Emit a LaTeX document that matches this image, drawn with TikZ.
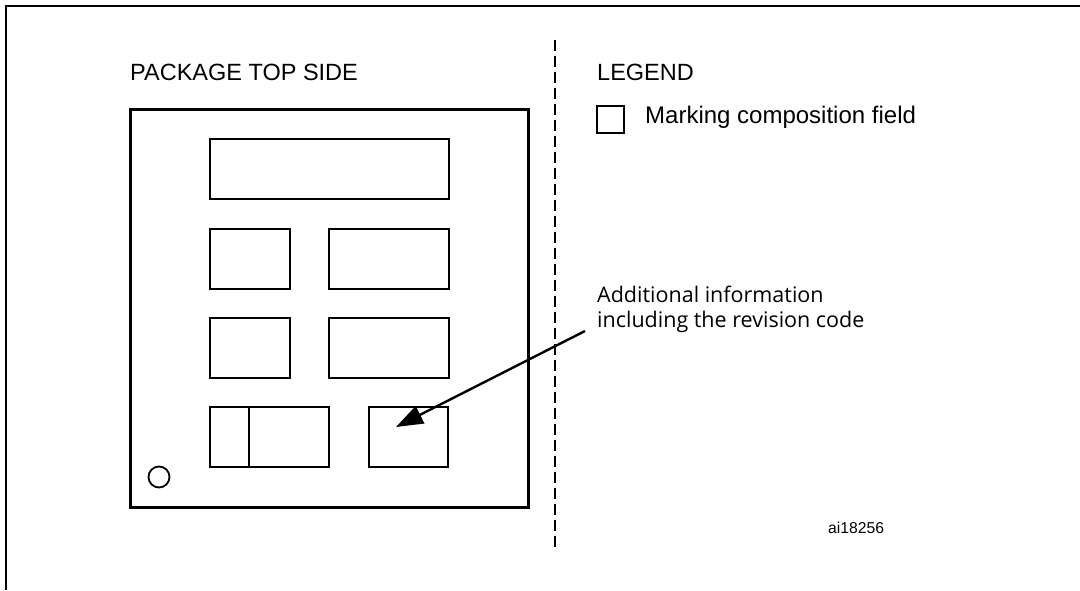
\documentclass[tikz,border=0pt]{standalone}
\usepackage{fontspec}
\setmainfont{Liberation Sans}
\newfontfamily\notefont{Open Sans}
\usetikzlibrary{arrows.meta}
\begin{document}
\begin{tikzpicture}[x=1pt,y=-1pt,
  field/.style={draw, line width=1.8pt, rectangle, inner sep=0pt, anchor=north west},
  lbl/.style={inner sep=0pt, anchor=base west, font=\fontsize{23.5}{26}\selectfont},
  pointer/.style={line width=2.4pt, -{Triangle[length=27pt,width=19pt]}}
]
\useasboundingbox (0,0) rectangle (1080,590);

% figure frame (open to the right and bottom)
\draw[line width=2.8pt] (6,590) -- (6,6) -- (1080,6);

% package outline
\node[field, line width=2.5pt, minimum width=398pt, minimum height=398pt] (pkg) at (129,108) {};

% marking fields
\node[field, minimum width=239pt, minimum height=60pt] (f1) at (209,138) {};
\node[field, minimum width=80pt, minimum height=60pt] (f2a) at (209,228) {};
\node[field, minimum width=120pt, minimum height=60pt] (f2b) at (328,228) {};
\node[field, minimum width=80pt, minimum height=60pt] (f3a) at (209,317) {};
\node[field, minimum width=120pt, minimum height=60pt] (f3b) at (328,317) {};
\node[field, minimum width=39pt, minimum height=60pt] (f4a) at (209,406) {};
\node[field, minimum width=80pt, minimum height=60pt] (f4b) at (248,406) {};
\node[field, minimum width=79pt, minimum height=60pt] (f4c) at (368,406) {};

% pin 1 mark
\node[draw, circle, line width=1.8pt, minimum size=21pt, inner sep=0pt] (pin) at (159,477) {};

% separator
\draw[line width=1.7pt, dash pattern=on 11pt off 5pt] (555,40) -- (555,552);

% titles
\node[lbl] (title) at (130,80) {PACKAGE TOP SIDE};
\node[lbl] (legend) at (597,80) {LEGEND};

% legend entry
\node[field, minimum width=27pt, minimum height=27pt] (key) at (596,105) {};
\node[lbl, font=\fontsize{24}{26}\selectfont] (keytext) at (645,123) {Marking composition field};

% callout
\node[inner sep=0pt, anchor=base west, align=left,
      font=\notefont\fontsize{21.5}{25}\selectfont] (info) at (597,327)
  {Additional information\\including the revision code};
\coordinate (tail) at (585,331);
\coordinate (tip) at (396,427);
\draw[pointer] (tail) -- (tip);

% drawing reference
\node[inner sep=0pt, anchor=base west, font=\fontsize{15.7}{18}\selectfont] (ref) at (828,533) {ai18256};
\end{tikzpicture}
\end{document}
